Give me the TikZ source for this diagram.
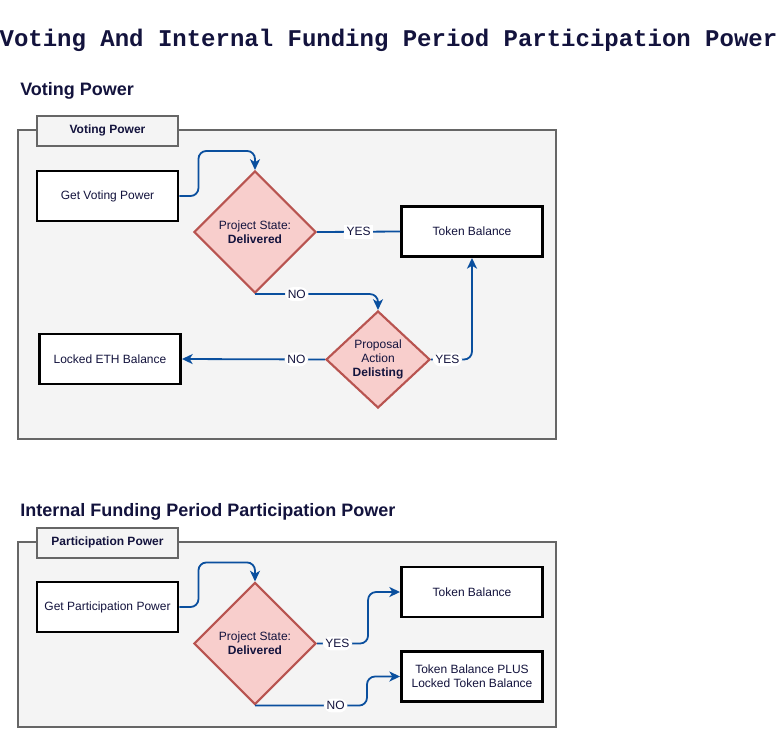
\documentclass[tikz,border=0pt]{standalone}
\usepackage{fontspec}
\setmainfont{Liberation Sans}
\newfontfamily\monotitle{Liberation Mono}
\usepackage{tikz}
\usepackage{xcolor}
\usetikzlibrary{
  arrows.meta, calc, positioning,
  shapes.geometric
}
\definecolor{textnavy}{HTML}{13133D}
\definecolor{flowblue}{HTML}{0A4F9E}
\definecolor{panelgray}{HTML}{666666}
\definecolor{panelfill}{HTML}{F4F4F4}
\definecolor{decfill}{HTML}{F8CECC}
\definecolor{decred}{HTML}{B85450}
\tikzset{
  % Entry and result boxes
  box/.style={
    draw=black, fill=white, line width=2.2pt,
    minimum width=105.75pt, minimum height=37.5pt,
    font=\fontsize{9}{10.5}\selectfont, text=textnavy,
    align=center, inner sep=2pt,
  },
  % Decision diamonds
  decision/.style={
    diamond, draw=decred, fill=decfill, line width=1.6pt,
    inner sep=0pt, align=center,
    font=\fontsize{9}{10.5}\selectfont, text=textnavy,
  },
  % Group containers and their tabs
  panel/.style={
    draw=panelgray, fill=panelfill, line width=1.7pt,
  },
  tab/.style={
    panel, minimum width=105.75pt, minimum height=22.5pt,
    font=\bfseries\fontsize{9}{10}\selectfont, text=textnavy,
  },
  % Arrows
  arr/.style={-{Stealth[length=8pt, width=7.5pt, inset=2.2pt]},
              line width=1.35pt, flowblue, rounded corners=6pt},
  link/.style={line width=1.35pt, flowblue},
  % Labels
  lbl/.style={fill=white, inner sep=2pt,
              font=\fontsize{9}{10}\selectfont, text=textnavy},
  heading/.style={anchor=base west, text=textnavy, inner sep=0pt,
                  font=\bfseries\fontsize{13.5}{16}\selectfont},
  bigtitle/.style={anchor=base, text=textnavy, inner sep=0pt,
                   font=\monotitle\bfseries\fontsize{18}{20}\selectfont},
}

\begin{document}
\begin{tikzpicture}[x=0.75pt, y=-0.75pt]
  \useasboundingbox (0,0) rectangle (777,729);

  \node[bigtitle] (title) at (388.5,46)
    {Voting And Internal Funding Period Participation Power};

  % --- voting power ---
  \node[heading] (vhead) at (20,95) {Voting Power};
  \node[panel, minimum width=403.5pt, minimum height=231.75pt]
    (vpanel) at (287,284.5) {};
  \node[tab, anchor=west] (vtab) at ($(vpanel.north west)+(19,2)$)
    {Voting Power};

  \node[box] (gvp) at (107.5,196) {Get Voting Power};
  \node[decision, minimum width=91.5pt, minimum height=91.5pt]
    (dec1) at (255,232) {Project State:\\\textbf{Delivered}};
  \node[box] (tb1) at (472,231.5) {Token Balance};
  \node[decision, minimum width=78pt, minimum height=72.75pt]
    (dec2) at (378,359.5) {Proposal\\Action\\\textbf{Delisting}};
  \node[box] (leth) at (110,359) {Locked ETH Balance};

  \draw[arr] (gvp.east) -- ++(19,0) |- ($(dec1.north)+(0,-19)$)
    -- (dec1.north);
  \draw[link] (dec1.east) -- node[lbl]{YES} (tb1.west);
  \draw[arr] (dec1.south) -| node[lbl, pos=0.17]{NO} (dec2.north);
  \draw[arr] (dec2.west) -- node[lbl, pos=0.2]{NO} (leth.east);
  \draw[arr] (dec2.east) -| node[lbl, pos=0.2]{YES} (tb1.south);

  % --- participation power ---
  \node[heading] (phead) at (20,516)
    {Internal Funding Period Participation Power};
  \node[panel, minimum width=403.5pt, minimum height=138.75pt]
    (ppanel) at (287,634.5) {};
  \node[tab, anchor=west] (ptab) at ($(ppanel.north west)+(19,2)$)
    {Participation Power};

  \node[box] (gpp) at (107.5,607) {Get Participation Power};
  \node[decision, minimum width=91.5pt, minimum height=91.5pt]
    (dec3) at (255,643.5) {Project State:\\\textbf{Delivered}};
  \node[box] (tb2) at (472,592) {Token Balance};
  \node[box] (tbplus) at (472,676.5)
    {Token Balance PLUS\\Locked Token Balance};

  \draw[arr] (gpp.east) -- ++(19,0) |- ($(dec3.north)+(0,-19)$)
    -- (dec3.north);
  \draw[arr] (dec3.east) -- node[lbl, pos=0.4]{YES} ++(51,0)
    |- (tb2.west);
  \draw[arr] (dec3.south) -- node[lbl, pos=0.72]{NO} ++(112,0)
    |- (tbplus.west);
\end{tikzpicture}
\end{document}
